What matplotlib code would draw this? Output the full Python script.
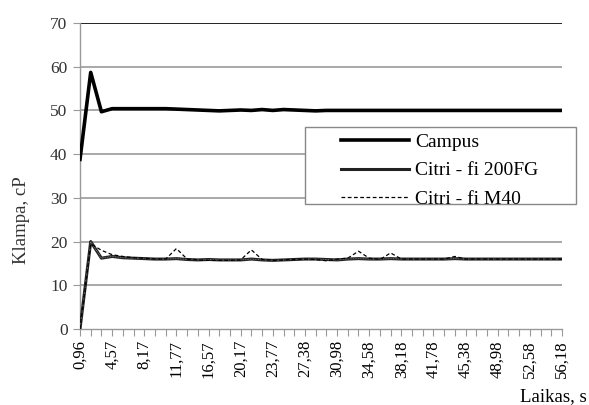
import matplotlib
matplotlib.use('Agg')
import matplotlib.pyplot as plt
from matplotlib.patches import Rectangle

# tick labels shown on the category axis (every 3rd sample)
time_labels = ["0,96", "4,57", "8,17", "11,77", "16,57", "20,17", "23,77", "27,38",
               "30,98", "34,58", "38,18", "41,78", "45,38", "48,98", "52,58", "56,18"]

# viscosity, cP (46 samples)
campus = [38.8, 58.7, 49.7, 50.4, 50.4, 50.4, 50.4, 50.4, 50.4, 50.3, 50.2, 50.1,
          50.0, 49.9, 50.0, 50.1, 50.0, 50.2, 50.0, 50.2, 50.1, 50.0, 49.9, 50.0,
          50.0, 50.0, 50.0, 50.0, 50.0, 50.0, 50.0, 50.0, 50.0, 50.0, 50.0, 50.0,
          50.0, 50.0, 50.0, 50.0, 50.0, 50.0, 50.0, 50.0, 50.0, 50.0]
citri_200fg = [0.0, 20.0, 16.2, 16.6, 16.3, 16.2, 16.1, 16.0, 16.0, 16.1, 15.9, 15.8,
               15.9, 15.8, 15.8, 15.8, 16.0, 15.8, 15.7, 15.8, 15.9, 16.0, 16.0, 15.9,
               15.8, 16.0, 16.1, 16.0, 16.0, 16.1, 16.0, 16.0, 16.0, 16.0, 16.0, 16.1,
               16.0, 16.0, 16.0, 16.0, 16.0, 16.0, 16.0, 16.0, 16.0, 16.0]
citri_m40 = [0.0, 19.5, 18.0, 17.0, 16.6, 16.3, 16.2, 16.0, 16.0, 18.4, 16.0, 15.8,
             15.7, 15.7, 15.7, 15.8, 18.1, 15.9, 15.7, 15.8, 15.9, 16.0, 15.9, 15.6,
             16.0, 16.2, 17.8, 16.2, 15.9, 17.4, 16.0, 16.0, 16.0, 16.0, 16.0, 16.6,
             16.0, 16.0, 16.0, 16.0, 16.0, 16.0, 16.0, 16.0, 16.0, 16.0]

plt.rcParams['font.family'] = ['Liberation Serif', 'DejaVu Serif']

W, H = 589, 405
fig = plt.figure(figsize=(W / 100, H / 100), dpi=100)
ax = fig.add_axes([80 / W, 1 - 329 / H, (562 - 80) / W, (329 - 23) / H])

x = list(range(len(campus)))

ax.set_ylim(0, 70)
ax.set_xlim(0, len(campus) - 1)
ax.set_yticks(range(0, 71, 10))
for y in range(10, 61, 10):
    ax.axhline(y, color='#999999', lw=1.2, zorder=1)
ax.axhline(70, color='#222222', lw=1.4, zorder=1)

l1, = ax.plot(x, campus, color='black', lw=2.6, zorder=4)
l2, = ax.plot(x, citri_200fg, color='#222222', lw=2.2, zorder=3)
ax.plot(x, citri_200fg, color='#888888', lw=0.6, ls=(0, (1, 1)), zorder=3)
l3, = ax.plot(x, citri_m40, color='black', lw=0.9, ls=(0, (3, 2)), zorder=3)

for s in ['top', 'right']:
    ax.spines[s].set_visible(False)
for s in ['left', 'bottom']:
    ax.spines[s].set_color('#999999')
    ax.spines[s].set_linewidth(1.0)

ax.set_xticks(x)
ax.set_xticklabels([time_labels[i // 3] if i % 3 == 0 else '' for i in x],
                   rotation=90, fontsize=12)
ax.tick_params(axis='x', length=5, color='#999999', pad=3)
ax.tick_params(axis='y', length=5, color='#999999', labelsize=12.5, labelcolor='#333333', pad=4)

fig.text(22 / W, 1 - 220 / H, 'Klampa, cP', rotation=90, ha='center', va='center',
         fontsize=13.5, color='#333333')
fig.text(587 / W, 1 - 397 / H, 'Laikas, s', ha='right', va='center', fontsize=13.5)

# legend box (reaches past the plot area, as in the source)
fig.add_artist(Rectangle((305 / W, 1 - 204 / H), 271 / W, 77 / H, transform=fig.transFigure,
                         facecolor='white', edgecolor='#888888', lw=1.0, zorder=1))
fig.legend([l1, l2, l3], ['Campus', 'Citri - fi 200FG', 'Citri - fi M40'],
           loc='center left', bbox_to_anchor=(341 / W, 1 - 170.5 / H),
           fontsize=14, frameon=False, handlelength=3.5, handletextpad=0.3,
           borderpad=0, borderaxespad=0, labelspacing=0.55)

fig.savefig('out.png', dpi=100)
